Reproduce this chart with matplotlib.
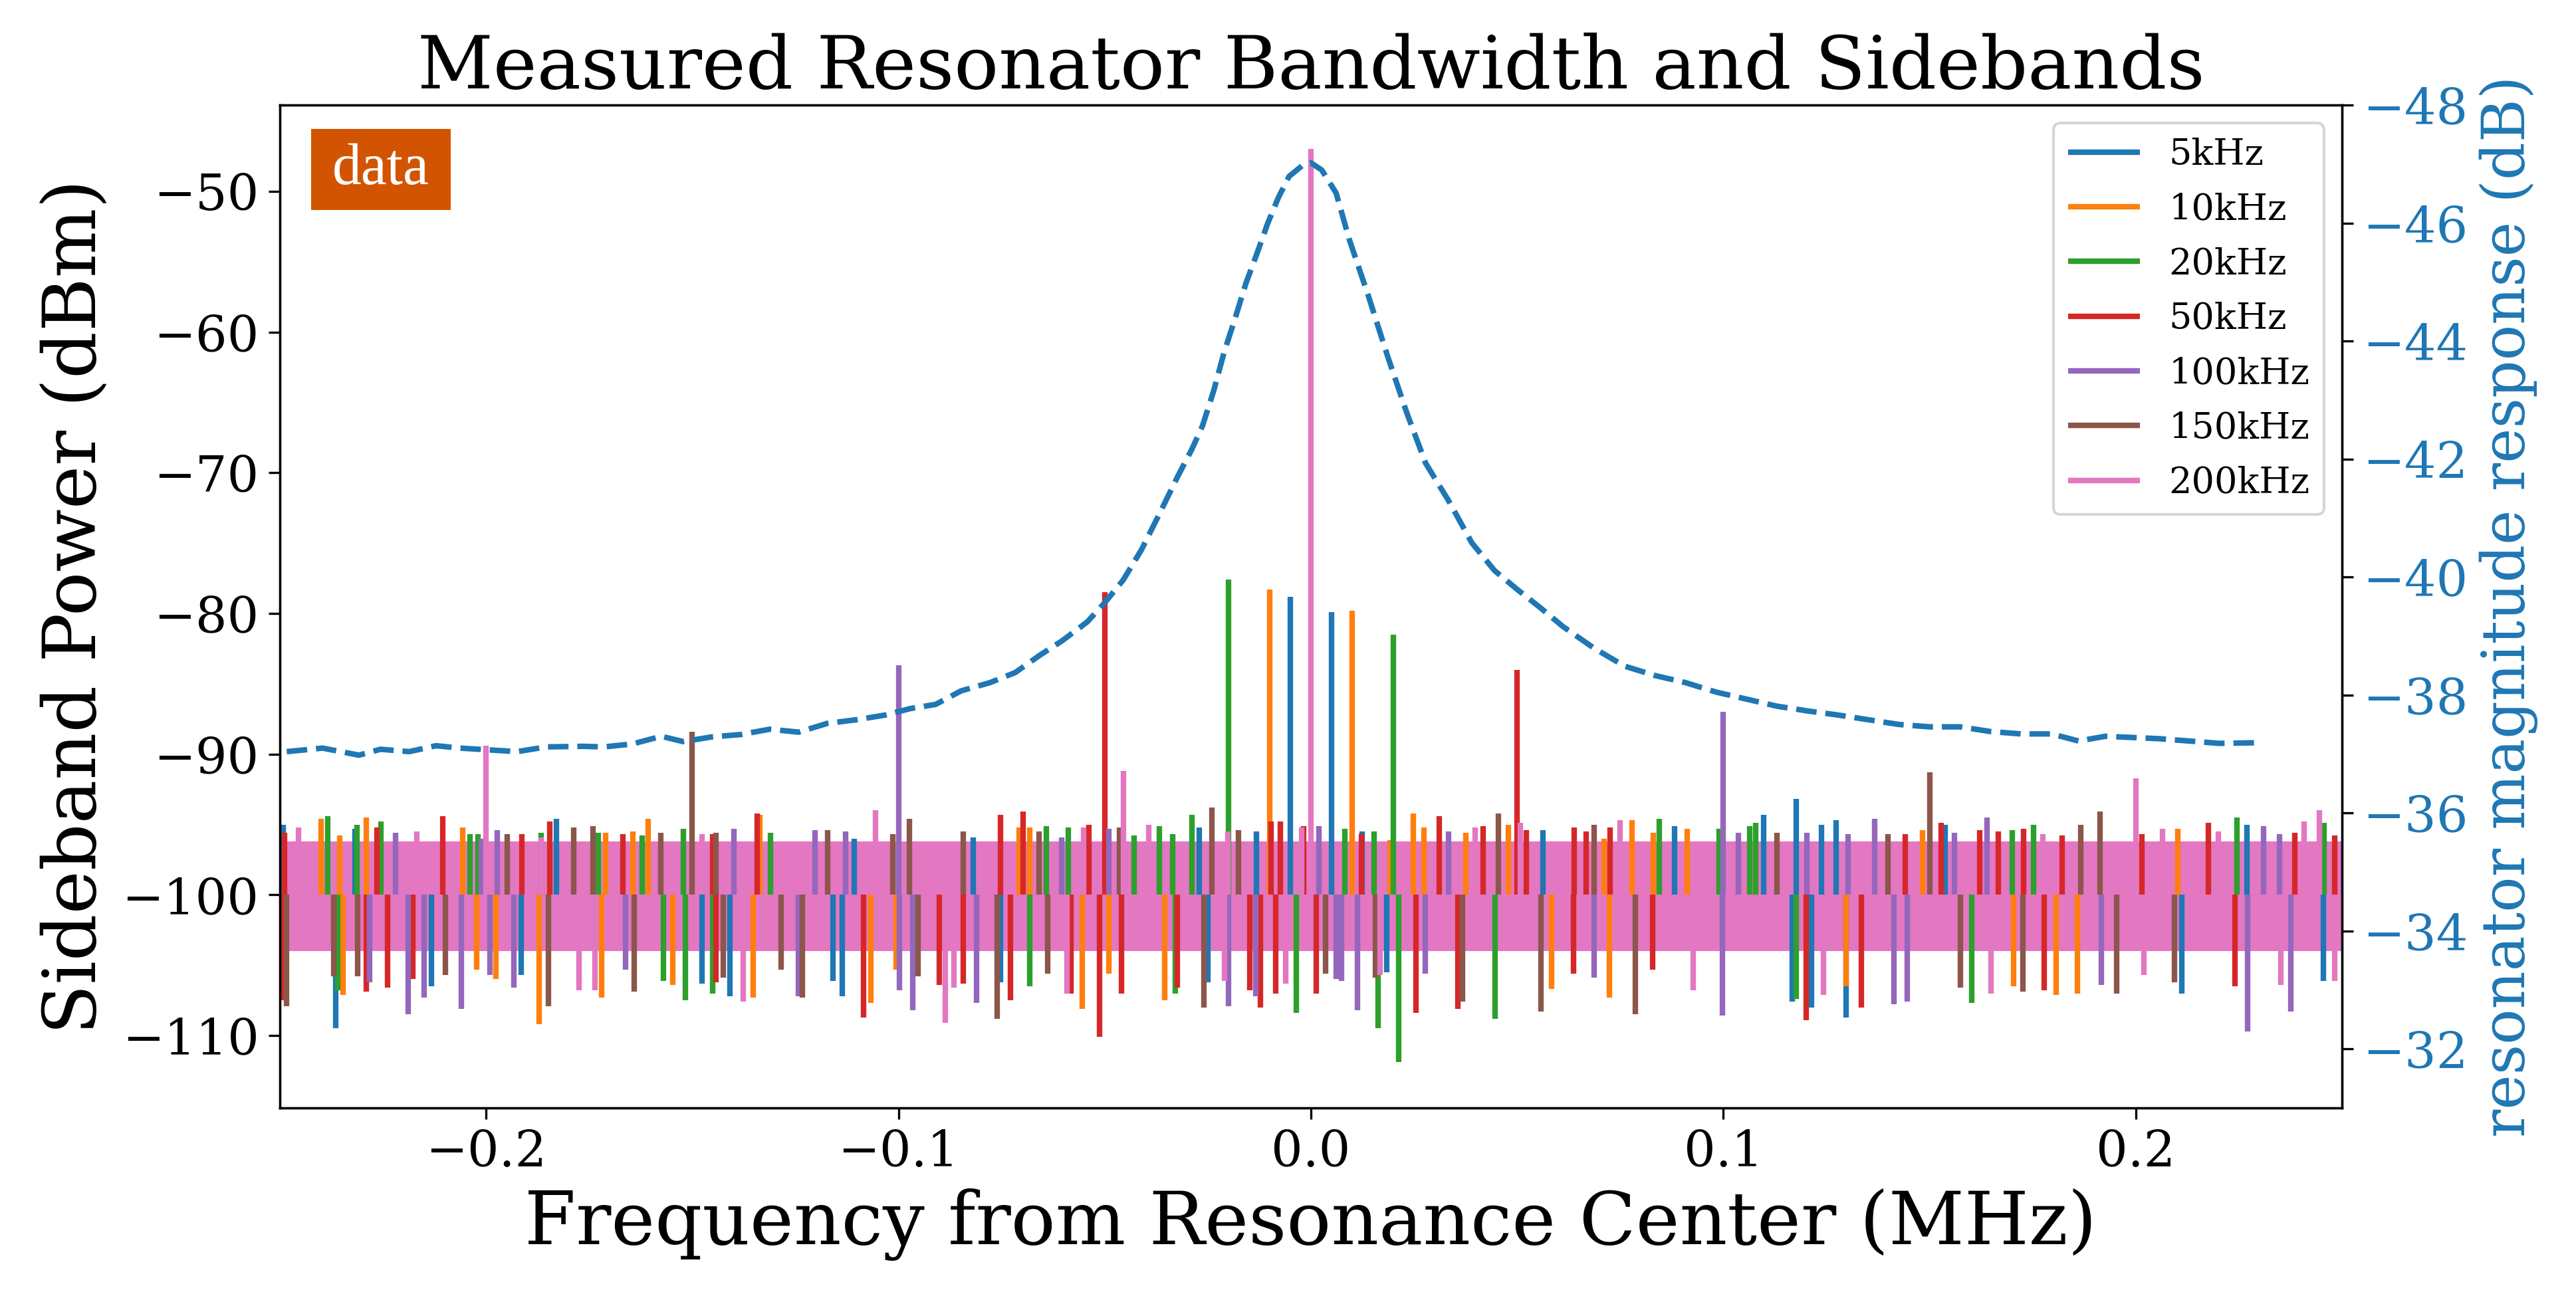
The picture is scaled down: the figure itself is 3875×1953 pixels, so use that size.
import matplotlib
matplotlib.use("Agg")
import matplotlib.pyplot as plt
from matplotlib.patches import Rectangle

plt.rcParams["font.family"] = "DejaVu Serif"

# --- series labels (sideband spacing) ---
labels = ["5kHz", "10kHz", "20kHz", "50kHz", "100kHz", "150kHz", "200kHz"]

# --- spikes: (frequency MHz, peak power dBm) ---
# first entries of each list are the sideband tones, the rest are noise excursions
pk_5k = [(-0.005, -78.8), (0.005, -79.9),
         (-0.2491, -95.0), (-0.2317, -95.3), (-0.1829, -94.6), (-0.1107, -96.0), (-0.0819, -95.9),
         (-0.0270, -95.2), (-0.0132, -95.5), (0.0124, -95.5), (0.0562, -95.4), (0.0882, -95.1),
         (0.1097, -94.3), (0.1176, -93.2), (0.1237, -95.0), (0.1273, -94.7), (0.1537, -95.0),
         (0.2269, -95.0),
         (-0.2364, -109.5), (-0.2133, -106.5), (-0.1914, -105.7), (-0.1477, -106.3), (-0.1408, -107.2),
         (-0.1159, -106.1), (-0.1137, -107.2), (-0.0752, -106.2), (-0.0250, -106.2), (0.0183, -105.5),
         (0.1167, -107.6), (0.1213, -108.0), (0.1297, -108.7), (0.2112, -107.0), (0.2454, -106.1)]
pk_10k = [(-0.010, -78.3), (0.010, -79.8),
          (-0.2400, -94.6), (-0.2355, -95.8), (-0.2290, -94.5), (-0.2056, -95.2), (-0.1710, -95.6),
          (-0.1644, -95.5), (-0.1607, -94.6), (-0.1336, -94.3), (-0.0708, -95.2), (-0.0682, -95.2),
          (0.0192, -96.1), (0.0248, -94.2), (0.0274, -95.2), (0.0376, -95.6), (0.0478, -95.0),
          (0.0710, -96.0), (0.0778, -94.7), (0.0830, -95.6), (0.0913, -95.3), (0.1482, -95.4),
          (0.2102, -95.3),
          (-0.2346, -107.1), (-0.2023, -105.3), (-0.1976, -106.0), (-0.1871, -109.2), (-0.1720, -107.3),
          (-0.1547, -106.4), (-0.1352, -107.3), (-0.1067, -107.7), (-0.1006, -105.3), (-0.0555, -108.1),
          (-0.0490, -105.6), (-0.0355, -107.5), (0.0584, -106.7), (0.0723, -107.3), (0.1297, -106.5),
          (0.1704, -106.5), (0.1806, -107.1), (0.1858, -107.0)]
pk_20k = [(-0.020, -77.6), (0.020, -81.5),
          (-0.2383, -94.4), (-0.2313, -95.0), (-0.2255, -94.8), (-0.2039, -95.7), (-0.2019, -95.7),
          (-0.1867, -95.6), (-0.1727, -95.6), (-0.1621, -95.8), (-0.1521, -95.3), (-0.1311, -95.6),
          (-0.0642, -95.1), (-0.0588, -95.2), (-0.0429, -95.8), (-0.0367, -95.1), (-0.0336, -95.7),
          (-0.0289, -94.3), (0.0083, -95.3), (0.0153, -95.5), (0.0845, -94.6), (0.0989, -95.3),
          (0.1063, -95.1), (0.1078, -94.9), (0.1701, -95.4), (0.1752, -95.0), (0.2245, -94.5),
          (0.2456, -94.9),
          (-0.2360, -106.8), (-0.1570, -106.1), (-0.1516, -107.5), (-0.1451, -107.0), (-0.0682, -106.5),
          (-0.0329, -107.0), (-0.0035, -108.4), (0.0162, -109.5), (0.0213, -111.9), (0.0447, -108.8),
          (0.1176, -107.4), (0.1602, -107.7)]
pk_50k = [(-0.050, -78.5), (0.050, -84.0),
          (-0.2488, -95.6), (-0.2264, -95.2), (-0.2105, -94.4), (-0.1913, -95.7), (-0.1845, -94.8),
          (-0.1668, -95.7), (-0.1451, -95.7), (-0.1343, -94.2), (-0.0752, -94.3), (-0.0698, -94.1),
          (-0.0539, -95.0), (-0.0096, -94.8), (-0.0074, -94.8), (-0.0018, -95.1), (0.0122, -95.7),
          (0.0311, -94.4), (0.0417, -95.1), (0.0523, -95.4), (0.0639, -95.2), (0.0667, -95.5),
          (0.0726, -95.2), (0.1441, -95.7), (0.1528, -94.9), (0.1621, -95.4), (0.1667, -95.5),
          (0.1728, -95.3), (0.1821, -95.8), (0.2015, -95.7), (0.2176, -94.9), (0.2386, -95.6),
          (0.2482, -95.8),
          (-0.2497, -107.5), (-0.2290, -106.9), (-0.2238, -106.6), (-0.2178, -106.0), (-0.1442, -106.2),
          (-0.1084, -108.7), (-0.0901, -106.4), (-0.0843, -106.3), (-0.0728, -107.5), (-0.0581, -107.0),
          (-0.0513, -110.1), (-0.0460, -107.0), (-0.0324, -106.6), (-0.0149, -106.8), (-0.0123, -108.0),
          (-0.0086, -107.0), (0.0013, -107.0), (0.0254, -108.4), (0.0356, -108.1), (0.0636, -105.6),
          (0.0828, -105.3), (0.1200, -108.9), (0.1334, -108.0), (0.1778, -106.8), (0.2241, -106.5)]
pk_100k = [(-0.100, -83.7), (0.100, -87.0),
           (-0.2220, -95.6), (-0.2011, -96.0), (-0.1972, -95.4), (-0.1399, -95.3), (-0.1203, -95.4),
           (-0.1128, -95.5), (-0.0604, -95.9), (-0.0490, -95.3), (0.0019, -95.1), (0.0334, -95.5),
           (0.1036, -95.6), (0.1202, -95.6), (0.1302, -95.7), (0.1367, -94.6), (0.1560, -95.6),
           (0.1639, -94.5), (0.2310, -95.1), (0.2349, -95.7),
           (-0.2282, -106.2), (-0.2189, -108.5), (-0.2150, -107.3), (-0.2060, -108.1), (-0.1990, -105.7),
           (-0.1932, -106.6), (-0.1661, -105.3), (-0.1242, -107.2), (-0.0997, -106.8), (-0.0965, -108.2),
           (-0.0810, -107.7), (-0.0200, -107.9), (-0.0133, -107.2), (0.0061, -106.0), (0.0074, -106.1),
           (0.0113, -108.2), (0.0278, -105.6), (0.0686, -105.9), (0.0997, -108.6), (0.1413, -107.8),
           (0.1445, -107.6), (0.1917, -106.4), (0.2271, -109.7), (0.2375, -108.3)]
pk_150k = [(-0.150, -88.4), (0.150, -91.3),
           (-0.1949, -95.7), (-0.1787, -95.2), (-0.1740, -95.1), (-0.1577, -95.6), (-0.1443, -95.6),
           (-0.1172, -95.4), (-0.1014, -95.7), (-0.0974, -94.6), (-0.0843, -95.5), (-0.0659, -95.5),
           (-0.0464, -95.2), (-0.0240, -93.8), (-0.0175, -95.4), (0.0454, -94.2), (0.0686, -95.0),
           (0.1130, -95.6), (0.1399, -95.7), (0.1867, -95.0), (0.1913, -94.1),
           (-0.2483, -107.9), (-0.2369, -105.8), (-0.2311, -105.8), (-0.2098, -105.7), (-0.1848, -107.9),
           (-0.1640, -106.9), (-0.1425, -105.9), (-0.1285, -105.3), (-0.1233, -107.3), (-0.0953, -105.8),
           (-0.0761, -108.8), (-0.0639, -105.6), (-0.0259, -108.0), (0.0035, -105.6), (0.0157, -105.9),
           (0.0367, -107.6), (0.0558, -108.3), (0.0787, -108.5), (0.1574, -106.6), (0.1726, -106.9),
           (0.1954, -107.0), (0.2093, -106.2)]
pk_200k = [(-0.200, -89.4), (-0.0455, -91.2), (0.0, -47.0), (0.200, -91.7),
           (-0.2455, -95.2), (-0.2168, -95.5), (-0.1866, -95.9), (-0.1476, -95.7), (-0.1056, -94.0),
           (-0.0551, -95.2), (-0.0394, -95.0), (-0.0202, -95.5), (-0.0022, -95.2), (0.0398, -95.2),
           (0.0508, -94.9), (0.0750, -94.7), (0.1775, -95.7), (0.2065, -95.3), (0.2200, -95.5),
           (0.2408, -94.8), (0.2445, -94.0),
           (-0.1775, -106.8), (-0.1736, -106.8), (-0.1376, -107.6), (-0.0887, -109.1), (-0.0866, -106.6),
           (-0.0591, -107.0), (-0.0209, -106.1), (-0.0062, -106.3), (0.0167, -105.7), (0.0926, -106.8),
           (0.1242, -107.1), (0.1649, -107.0), (0.2019, -105.7), (0.2352, -106.4), (0.2482, -106.1)]

# dense noise floor of each trace (dBm)
floor_hi = [-96.2, -96.2, -96.2, -96.2, -96.2, -96.2, -96.2]
floor_lo = [-104.0, -104.0, -104.0, -104.0, -104.0, -104.0, -104.0]
floor_mid = -100.0
span = [-0.25, 0.25]

# --- resonator magnitude response (dB), right axis ---
resp_f = [-0.2483, -0.2396, -0.2308, -0.2256, -0.2186, -0.2121, -0.2064, -0.1924, -0.1854,
          -0.1767, -0.1714, -0.1645, -0.1575, -0.1522, -0.1452, -0.1382, -0.1312, -0.1242,
          -0.1172, -0.1102, -0.1032, -0.0971, -0.0910, -0.0848, -0.0778, -0.0717, -0.0656,
          -0.0603, -0.0542, -0.0498, -0.0455, -0.0411, -0.0368, -0.0324, -0.0289, -0.0263,
          -0.0236, -0.0210, -0.0184, -0.0158, -0.0131, -0.0105, -0.0079, -0.0053, -0.0018,
          0.0, 0.0026, 0.0061, 0.0093, 0.0139, 0.0186, 0.0232, 0.0278, 0.0334, 0.0390,
          0.0445, 0.0500, 0.0556, 0.0611, 0.0685, 0.0760, 0.0834, 0.0908, 0.0982, 0.1056,
          0.1130, 0.1204, 0.1278, 0.1352, 0.1426, 0.1500, 0.1574, 0.1648, 0.1722, 0.1796,
          0.1861, 0.1926, 0.1990, 0.2055, 0.2129, 0.2203, 0.2287]
resp_db = [-37.04, -37.10, -36.98, -37.08, -37.04, -37.14, -37.10, -37.04, -37.12,
           -37.13, -37.12, -37.17, -37.30, -37.21, -37.29, -37.33, -37.42, -37.37,
           -37.52, -37.58, -37.66, -37.77, -37.84, -38.07, -38.21, -38.38, -38.68,
           -38.92, -39.24, -39.58, -39.95, -40.46, -41.06, -41.69, -42.16, -42.56,
           -43.15, -43.82, -44.38, -44.97, -45.48, -45.99, -46.43, -46.79, -46.99,
           -47.02, -46.90, -46.51, -45.72, -44.77, -43.74, -42.79, -41.93, -41.29, -40.58,
           -40.11, -39.79, -39.48, -39.16, -38.80, -38.49, -38.33, -38.21, -38.05, -37.93,
           -37.81, -37.73, -37.66, -37.58, -37.50, -37.46, -37.46, -37.38, -37.34, -37.34,
           -37.22, -37.30, -37.28, -37.26, -37.22, -37.18, -37.19]

peaks = [pk_5k, pk_10k, pk_20k, pk_50k, pk_100k, pk_150k, pk_200k]
colors = ["tab:blue", "tab:orange", "tab:green", "tab:red", "tab:purple", "tab:brown", "tab:pink"]

fig = plt.figure(figsize=(3875 / 300, 1953 / 300), dpi=300)
ax = fig.add_axes([0.1086, 0.1464, 0.8006, 0.7727])

for i, lbl in enumerate(labels):
    f = [pk[0] for pk in peaks[i]]
    p = [pk[1] for pk in peaks[i]]
    ax.fill_between(span, floor_lo[i], floor_hi[i], color=colors[i], lw=0)
    ax.vlines(f, floor_mid, p, color=colors[i], lw=2, label=lbl)

ax.set_xlim(-0.25, 0.25)
ax.set_ylim(-115.15, -43.86)
ax.set_xlabel("Frequency from Resonance Center (MHz)", fontsize=26.7)
ax.set_ylabel("Sideband Power (dBm)", fontsize=26.5)
ax.set_title("Measured Resonator Bandwidth and Sidebands", fontsize=26.7)
ax.tick_params(labelsize=18, length=4)
ax.legend(loc="upper right", fontsize=13, labelspacing=0.56)

# "data" tag
ax.add_patch(Rectangle((0.0152, 0.8953), 0.0676, 0.0808, transform=ax.transAxes,
                       facecolor="#d35400", edgecolor="none", zorder=5))
ax.text(0.049, 0.9357, "data", transform=ax.transAxes, ha="center", va="center",
        fontsize=21, family="Liberation Serif", color="white", zorder=6)

ax2 = ax.twinx()
ax2.plot(resp_f, resp_db, "--", color="tab:blue", lw=2)
ax2.set_ylim(-31, -48)
ax2.set_ylabel("resonator magnitude response (dB)", fontsize=21.3, color="tab:blue")
ax2.tick_params(axis="y", labelsize=18, labelcolor="tab:blue", length=4)

fig.savefig("out.png", dpi=300)
